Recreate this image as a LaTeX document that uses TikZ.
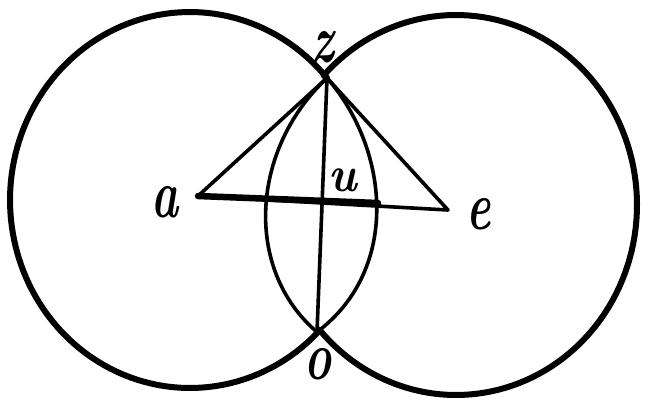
\documentclass[tikz,border=0pt]{standalone}
\newcommand{\lbl}[2][1.5]{\scalebox{1}[#1]{\fontsize{46}{46}\selectfont\bfseries\itshape #2}}
\begin{document}
\begin{tikzpicture}[x=1bp,y=-1bp,
  circ/.style={line width=6bp, line cap=round, line join=round},
  ln/.style={line width=3.6bp, line cap=round, line join=round},
  thickln/.style={line width=6.5bp, line cap=round},
  lab/.style={inner sep=0pt}]
\useasboundingbox (0,0) rectangle (658,410);
\fill[white] (0,0) rectangle (658,410);
% points
\coordinate (a) at (198,196);
\coordinate (e) at (448,210);
\coordinate (z) at (327,78);
\coordinate (o) at (317,332);
\coordinate (r) at (378,203);
% outer arcs of the two circles
\draw[circ] (o) -- plot[domain=44.8:319.5, samples=120, variable=\t] ({190+180*cos(\t)}, {200+188*sin(\t)}) -- (z);
\draw[circ] (z) -- plot[domain=223:499, samples=120, variable=\t] ({456+181*cos(\t)}, {205+190*sin(\t)}) -- (o);
% triangle and lines
\draw[ln] (a) -- (z) -- (e) -- (a);
\draw[thickln] (a) -- (r);
\draw[ln] (z) -- (o);
% lens (inner arcs of the circles)
\draw[ln] (z) .. controls (250,150) and (244,270) .. (o);
\draw[ln] (z) .. controls (390,150) and (400,270) .. (o);
% labels
\node[lab] (la) at (165,202) {\lbl{a}};
\node[lab] (le) at (479,214) {\lbl{e}};
\node[lab] (lz) at (323,47) {\lbl{z}};
\node[lab] (lo) at (318,364) {\lbl{o}};
\node[lab] (lu) at (343,180) {\lbl[1.1]{u}};
\end{tikzpicture}
\end{document}
